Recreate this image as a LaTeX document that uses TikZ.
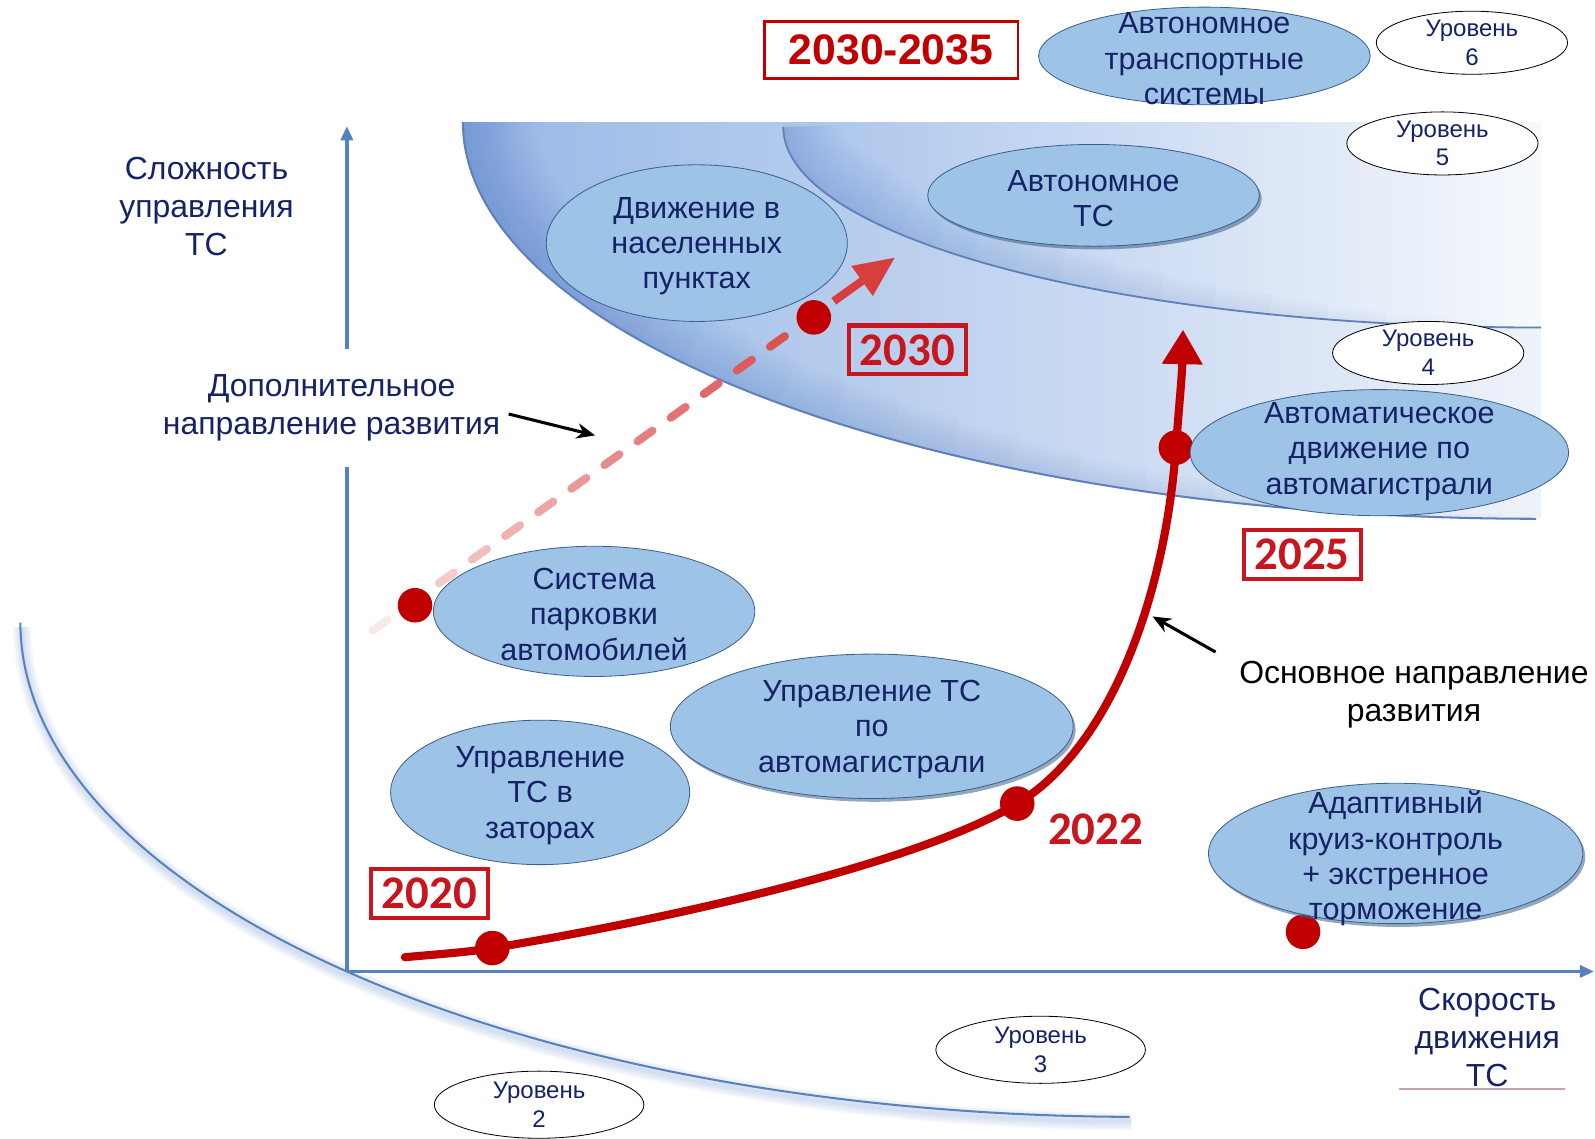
\documentclass[tikz,border=0pt]{standalone}
\usepackage{fontspec}
\setmainfont{Liberation Sans}
\newfontfamily\yearfont{Carlito}
\usetikzlibrary{arrows.meta,shapes.geometric,calc,shadows}

\definecolor{navy}{RGB}{22,34,104}
\definecolor{axisblue}{RGB}{88,130,190}
\definecolor{arcglow}{RGB}{120,160,215}
\definecolor{bubblefill}{RGB}{157,195,230}
\definecolor{bubbleedge}{RGB}{60,95,140}
\definecolor{darkred}{RGB}{192,0,0}
\definecolor{yearred}{RGB}{200,22,30}
\definecolor{dashred}{RGB}{214,45,45}
\definecolor{bandA}{RGB}{152,184,230}
\definecolor{bandApale}{RGB}{238,242,250}
\definecolor{bandB}{RGB}{170,196,236}
\definecolor{bandBpale}{RGB}{247,249,252}
\definecolor{bandedge}{RGB}{85,125,195}
\definecolor{bandline}{RGB}{95,128,185}
\definecolor{underline}{RGB}{200,160,185}

\tikzset{
  bubble/.style={ellipse, fill=bubblefill, draw=bubbleedge, line width=0.4pt, inner sep=0pt},
  bshadow/.style={drop shadow={shadow xshift=1.2pt, shadow yshift=-1.6pt, fill=bubbleedge, opacity=0.55}},
  bubbletext/.style={align=center, text=navy, font=\fontsize{15}{17.4}\selectfont, yshift=-1.5pt},
  levelbox/.style={ellipse, fill=white, draw=black, line width=0.4pt, inner sep=0pt},
  leveltext/.style={align=center, text=navy, font=\fontsize{11.8}{14}\selectfont},
  axislabel/.style={align=center, text=navy, font=\fontsize{15.7}{18.8}\selectfont},
  yearbox/.style={draw=yearred, line width=2pt, text=yearred, font=\yearfont\bfseries\fontsize{23}{23}\selectfont,
    minimum width=57.5pt, minimum height=24pt, inner sep=0pt},
  titlebox/.style={draw=darkred, line width=1.2pt, text=darkred, font=\bfseries\fontsize{21}{21}\selectfont,
    minimum width=124.5pt, minimum height=28pt, inner sep=0pt},
  reddot/.style={circle, fill=darkred, minimum size=17pt, inner sep=0pt},
  axisline/.style={draw=axisblue, line width=1.6pt, -{Triangle[length=7pt,width=6pt]}},
  pointer/.style={draw=black, line width=1.5pt, -{Stealth[length=9pt,width=7.5pt]}},
}

\begin{document}
\begin{tikzpicture}[x=0.5pt,y=-0.5pt]
\fill[white] (0,0) rectangle (1568,1119);
\useasboundingbox (0,0) rectangle (1568,1119);

% outer band (between the two boundary curves)
\begin{scope}
  \clip (455,120) -- (770,120) -- plot[domain=0:90,samples=90] ({1515-745*cos(\x)},{125+197*sin(\x)})
    -- (1515,510) -- plot[domain=90:0,samples=90] ({1510-1055*cos(\x)},{120+390*sin(\x)}) -- cycle;
  \shade[left color=bandA, right color=bandApale] (450,115) rectangle (1520,515);
  % soft glow inside the outer edge, widest at the top left
  \foreach \k in {1,...,18}{
    \pgfmathsetmacro\tend{92-3.9*\k}
    \draw[line width=4*\k pt, draw=bandedge, opacity=0.028]
      plot[domain=0:\tend,samples=60] ({1510-1055*cos(\x)},{120+390*sin(\x)});
  }
\end{scope}
% inner band (above the inner curve)
\begin{scope}
  \clip (770,120) -- (1515,120) -- (1515,322) -- plot[domain=90:0,samples=90] ({1515-745*cos(\x)},{125+197*sin(\x)}) -- cycle;
  \shade[left color=bandB, right color=bandBpale] (765,115) rectangle (1520,330);
  \foreach \k in {1,...,14}{
    \pgfmathsetmacro\tend{92-4.6*\k}
    \draw[line width=4*\k pt, draw=bandedge, opacity=0.025]
      plot[domain=0:\tend,samples=60] ({1515-745*cos(\x)},{125+197*sin(\x)});
  }
\end{scope}
\draw[line width=1pt, draw=bandline] plot[domain=0:90,samples=90] ({1510-1055*cos(\x)},{120+390*sin(\x)});
\draw[line width=0.9pt, draw=bandline] plot[domain=0:90,samples=90] ({1515-745*cos(\x)},{125+197*sin(\x)});

% lower level arc with its soft shadow
\foreach \k in {1,...,6}
  \draw[line width=1.5*\k pt, draw=arcglow, opacity=0.06, xshift=0.8pt, yshift=-2.2pt]
    plot[domain=0:89.5,samples=100] ({1120-1100*cos(\x)},{612+486*sin(\x)});
\draw[line width=1pt, draw=axisblue] plot[domain=0:89.5,samples=100] ({1120-1100*cos(\x)},{612+486*sin(\x)});

% axes
\coordinate (origin) at (341,955);
\coordinate (ytip) at (341,124);
\coordinate (xtip) at (1567,955);
\draw[axisline] (origin) -- (ytip);
\draw[axisline] (origin) -- (xtip);
\coordinate (ulstart) at (1375,1071);
\coordinate (ulend) at (1538,1071);
\draw[draw=underline, line width=1pt] (ulstart) -- (ulend);

% axis captions and direction labels
\node[axislabel] (ylabel) at (203,203) {Сложность\\управления\\ТС};
\node[axislabel, fill=white, inner xsep=2pt, inner ysep=12.5pt] (addlabel) at (326,401) {Дополнительное\\направление развития};
\node[axislabel] (xlabel) at (1462,1020) {Скорость\\движения\\ТС};
\node[axislabel, text=black] (mainlabel) at (1390,683) {Основное направление\\развития};

% additional (dashed) direction
\coordinate (dstart) at (355,628);
\coordinate (dtip) at (880,253);
\foreach \i in {0,...,13}{
  \pgfmathsetmacro\fa{(14+40*\i)/645.2}
  \pgfmathsetmacro\fb{(32+40*\i)/645.2}
  \pgfmathtruncatemacro\pct{8+82*((14+40*\i)/540)^0.9}
  \draw[line width=4pt, line cap=round, draw=dashred!\pct!white] ($(dstart)!\fa!(dtip)$) -- ($(dstart)!\fb!(dtip)$);
}
\coordinate (dheadbase) at ($(dstart)!0.885!(dtip)$);
\draw[line width=4pt, draw=dashred!92!white, -{Triangle[length=20pt,width=17pt]}] (dheadbase) -- (dtip);

% main (solid) direction
\coordinate (mstart) at (398,941);
\coordinate (c2020) at (484,932);
\coordinate (c2022) at (1000,790);
\coordinate (c2025) at (1156,440);
\coordinate (mtip) at (1163,324);
\draw[line width=4pt, draw=darkred, line cap=round, -{Triangle[length=17pt,width=19pt]}]
  (mstart) .. controls (430,938) and (455,936.7) .. (c2020)
  .. controls (650,905) and (900,850) .. (c2022)
  .. controls (1090,736) and (1145,590) .. (c2025)
  .. controls (1159,400) and (1162,370) .. (mtip);

% pointers to the two directions
\coordinate (addfrom) at (500,407);
\coordinate (addto) at (585,428);
\draw[pointer] (addfrom) -- (addto);
\coordinate (mainfrom) at (1195,641);
\coordinate (mainto) at (1133,606);
\draw[pointer] (mainfrom) -- (mainto);

% milestones
\node[reddot] (dotpark) at (408,595) {};
\node[reddot] (dottown) at (800,312) {};
\node[reddot] (dot2020) at (c2020) {};
\node[reddot] (dot2022) at (c2022) {};
\node[reddot] (dot2025) at (c2025) {};
\node[reddot] (dotacc) at (1281,916) {};

\node[yearbox] (y2030) at (892,344) {2030};
\node[yearbox] (y2025) at (1280,545) {2025};
\node[yearbox] (y2020) at (422,878) {2020};
\node[text=yearred, font=\yearfont\bfseries\fontsize{23}{23}\selectfont] (y2022) at (1077,815) {2022};
\node[titlebox] (title) at (876,49) {2030-2035};

% function bubbles
\node[bubble, minimum width=148pt, minimum height=77pt] (town) at (685,239) {};
\node[bubbletext] at (town) {Движение в\\населенных\\пунктах};
\node[bubble, bshadow, minimum width=163pt, minimum height=50pt] (autotc) at (1075,192) {};
\node[bubbletext] at (autotc) {Автономное\\ТС};
\node[bubble, minimum width=163pt, minimum height=48pt] (autosys) at (1184,55) {};
\node[bubbletext] at (autosys) {Автономное\\транспортные\\системы};
\node[bubble, minimum width=186pt, minimum height=62pt] (highwayauto) at (1356,445) {};
\node[bubbletext] at (1356,441) {Автоматическое\\движение по\\автомагистрали};
\node[bubble, minimum width=158pt, minimum height=64pt] (parking) at (584,601) {};
\node[bubbletext] at (parking) {Система\\парковки\\автомобилей};
\node[bubble, bshadow, minimum width=198pt, minimum height=71pt] (highway) at (857,714) {};
\node[bubbletext] at (highway) {Управление ТС\\по\\автомагистрали};
\node[bubble, minimum width=147pt, minimum height=71pt] (jams) at (531,779) {};
\node[bubbletext] at (jams) {Управление\\ТС в\\заторах};
\node[bubble, bshadow, minimum width=184pt, minimum height=69pt] (acc) at (1372,839) {};
\node[bubbletext] at (1372,841) {Адаптивный\\круиз-контроль\\+ экстренное\\торможение};

% automation levels
\node[levelbox, minimum width=94pt, minimum height=31pt] (lvl6) at (1447,42) {};
\node[leveltext] at (lvl6) {Уровень\\6};
\node[levelbox, minimum width=94pt, minimum height=31pt] (lvl5) at (1418,141) {};
\node[leveltext] at (lvl5) {Уровень\\5};
\node[levelbox, minimum width=94pt, minimum height=31pt] (lvl4) at (1404,347) {};
\node[leveltext] at (lvl4) {Уровень\\4};
\node[levelbox, minimum width=103pt, minimum height=33pt] (lvl3) at (1023,1032) {};
\node[leveltext] at (lvl3) {Уровень\\3};
\node[levelbox, minimum width=103pt, minimum height=33pt] (lvl2) at (530,1086) {};
\node[leveltext] at (lvl2) {Уровень\\2};
\end{tikzpicture}
\end{document}
